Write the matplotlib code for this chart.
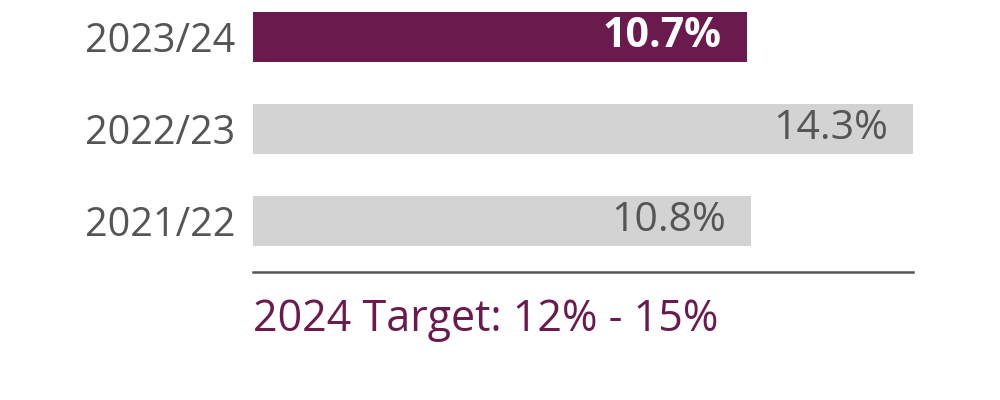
import numpy as np
import matplotlib
matplotlib.use('Agg')
import matplotlib.pyplot as plt

plt.rcParams['font.family'] = ['Open Sans', 'DejaVu Sans']

years  = ['2021/22', '2022/23', '2023/24']
values = [10.8, 14.3, 10.7]
target = '2024 Target: 12% - 15%'

purple = '#6b1a4e'
grey   = '#d3d3d3'
txt    = '#555555'
colors = [grey, grey, purple]

fig = plt.figure(figsize=(10, 4), dpi=100)
ax = fig.add_axes([0.253, 0.32, 0.66, 0.68])

pos = np.arange(len(years))
ax.barh(pos, values, height=0.543, color=colors)
ax.set_xlim(0, max(values))
ax.set_ylim(-0.554, 2.402)

for i, v in enumerate(values):
    hl = i == len(values) - 1
    ax.annotate(f'{v:.1f}%', xy=(v, i), xytext=(-18, 0), textcoords='offset points',
                ha='right', va='center', fontsize=29.5,
                color='white' if hl else txt,
                fontweight='bold' if hl else 'normal')

ax.set_yticks(pos)
ax.set_yticklabels(years, fontsize=28.5, color=txt)
ax.tick_params(axis='y', length=0, pad=13)
ax.set_xticks([])
for s in ['top', 'right', 'left']:
    ax.spines[s].set_visible(False)
ax.spines['bottom'].set_color('#555555')
ax.spines['bottom'].set_linewidth(1.8)

fig.text(0.253, 0.2, target, fontsize=31, color=purple, ha='left', va='center')

fig.savefig('out.png', dpi=100, facecolor='white')
